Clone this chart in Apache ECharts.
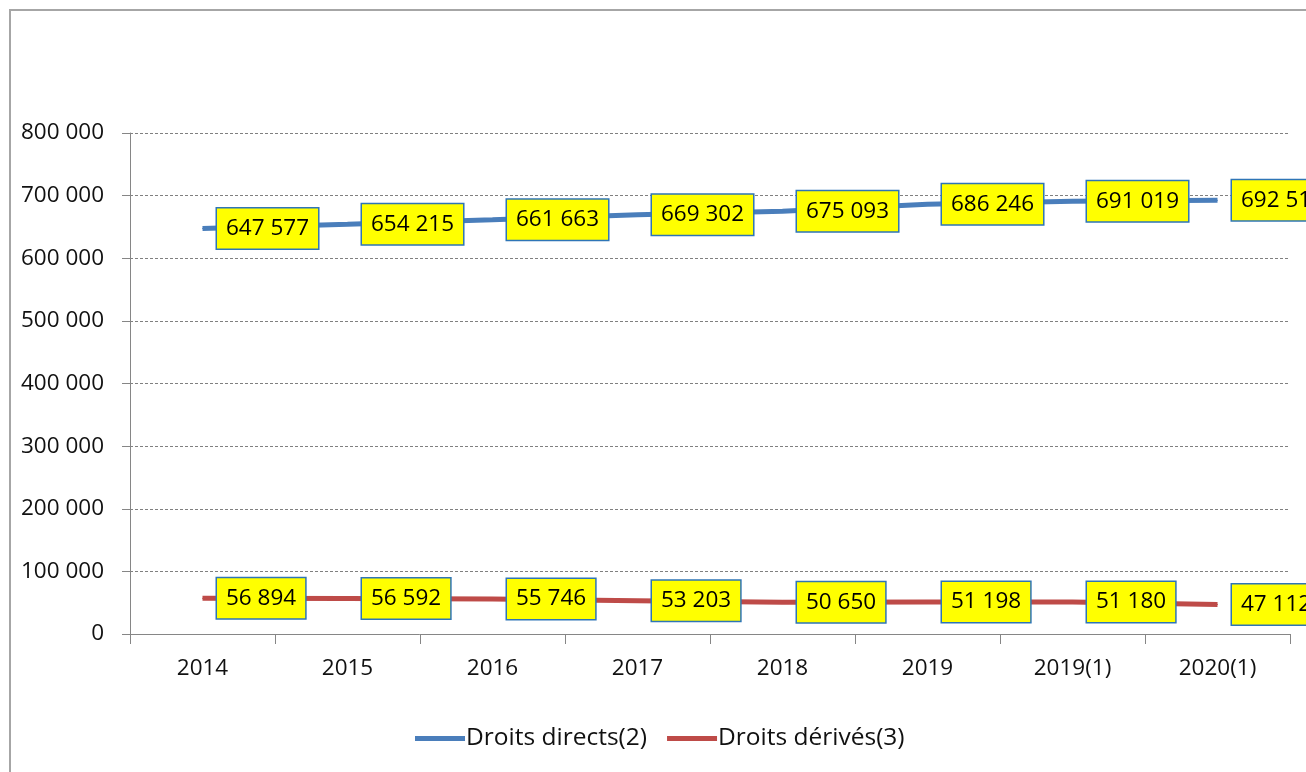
<!DOCTYPE html>
<html><head><meta charset="utf-8">
<script src="https://cdn.jsdelivr.net/npm/echarts@6/dist/echarts.min.js"></script>
<style>html,body{margin:0;padding:0;background:#fff;overflow:hidden}#c{width:1306px;height:772px}</style>
</head><body><div id="c"></div>
<script>
const categories = ['2014','2015','2016','2017','2018','2019','2019(1)','2020(1)'];
const droitsDirects = [647577, 654215, 661663, 669302, 675093, 686246, 691019, 692514];
const droitsDerives = [56894, 56592, 55746, 53203, 50650, 51198, 51180, 47112];
const seriesNames = ['Droits directs(2)', 'Droits dérivés(3)'];

const FONT = 'Open Sans';
const fmt = v => String(v).replace(/\B(?=(\d{3})+(?!\d))/g, ' ');
const chart = echarts.init(document.getElementById('c'));
const labelCfg = {
  show: true, position: 'right', distance: 14,
  backgroundColor: '#ffff00', borderColor: '#2e75b6', borderWidth: 1.5,
  padding: [9, 9, 8, 9], color: '#000', fontFamily: FONT, fontSize: 22.5,
  formatter: p => fmt(p.value)
};
chart.setOption({
  animation: false,
  graphic: [{type: 'rect', shape: {x: 10, y: 10, width: 1400, height: 900}, style: {fill: 'none', stroke: '#a6a6a6', lineWidth: 2}, silent: true}],
  grid: {left: 130, right: 16, top: 133, bottom: 138},
  legend: {
    top: 721, left: 410, itemWidth: 50, itemHeight: 5, itemGap: 20,
    icon: 'rect',
    textStyle: {fontFamily: FONT, fontSize: 24.5, color: '#111', padding: [0,0,0,-4]},
    data: seriesNames
  },
  xAxis: {
    type: 'category', data: categories, boundaryGap: true,
    axisLine: {lineStyle: {color: '#868686', width: 1}},
    axisTick: {show: true, length: 10, lineStyle: {color: '#868686'}},
    axisLabel: {fontFamily: FONT, fontSize: 22.5, color: '#111', margin: 23}
  },
  yAxis: {
    type: 'value', min: 0, max: 800000, interval: 100000,
    axisLine: {show: true, lineStyle: {color: '#868686'}},
    axisTick: {show: true, length: 8, lineStyle: {color: '#868686'}},
    splitLine: {lineStyle: {color: '#808080', type: [3, 2], width: 1}},
    axisLabel: {fontFamily: FONT, fontSize: 22.5, color: '#111', margin: 26, formatter: v => fmt(v)}
  },
  series: [
    {name: seriesNames[0], type: 'line', data: droitsDirects, symbol: 'circle', symbolSize: 1, showSymbol: true,
     lineStyle: {color: '#4a7ebb', width: 5}, itemStyle: {color: '#4a7ebb'}, label: labelCfg, z: 3},
    {name: seriesNames[1], type: 'line', data: droitsDerives, symbol: 'circle', symbolSize: 1, showSymbol: true,
     lineStyle: {color: '#be4b48', width: 5}, itemStyle: {color: '#be4b48'}, label: labelCfg, z: 3}
  ]
});
</script></body></html>
